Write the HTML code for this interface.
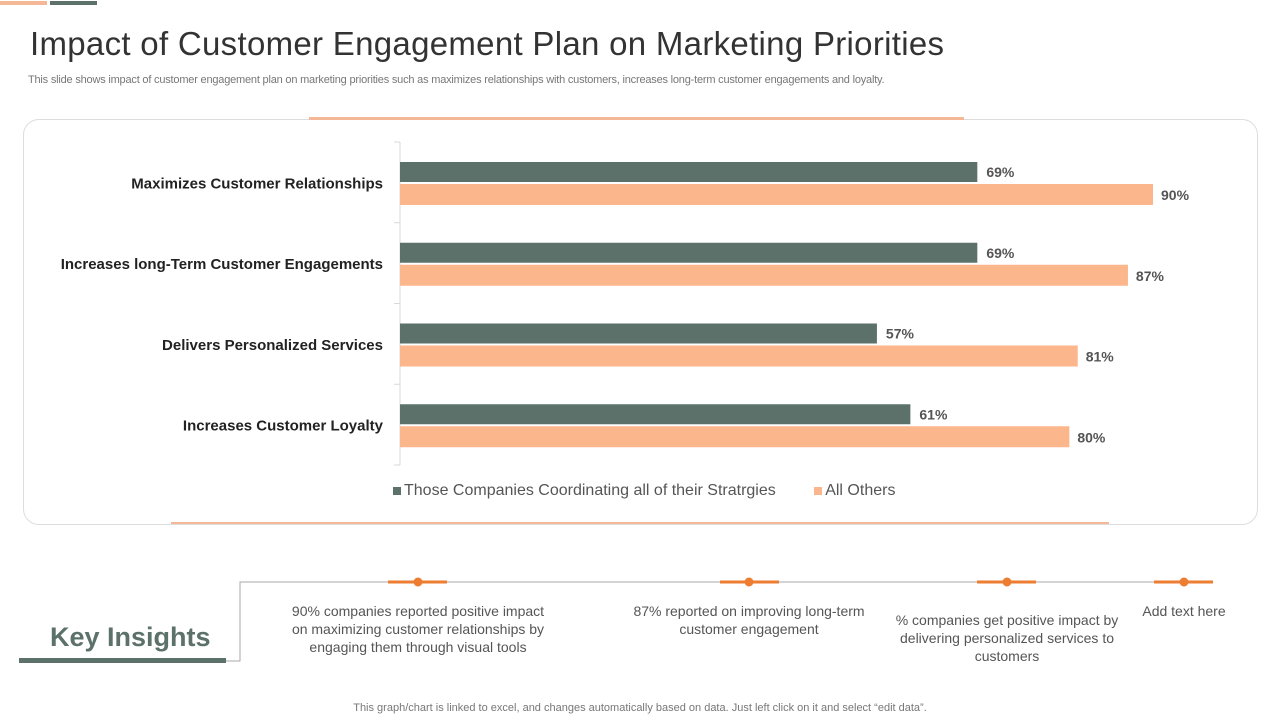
<!DOCTYPE html>
<html><head><meta charset="utf-8"><style>
body{margin:0;width:1280px;height:720px;position:relative;background:#fff;font-family:"Liberation Sans",sans-serif;overflow:hidden}
.a{position:absolute}
.ins{position:absolute;font-size:14px;color:#555;text-align:center;line-height:18px}
</style></head><body>
<div class="a" style="left:0;top:1px;width:47px;height:4px;background:#f4b896"></div>
<div class="a" style="left:50px;top:1px;width:47px;height:4px;background:#5b7169"></div>
<div class="a" style="left:30px;top:25px;font-size:33px;color:#333;letter-spacing:0.3px">Impact of Customer Engagement Plan on Marketing Priorities</div>
<div class="a" style="left:28px;top:74px;font-size:11px;color:#777;letter-spacing:-0.2px">This slide shows impact of customer engagement plan on marketing priorities such as maximizes relationships with customers, increases long-term customer engagements and loyalty.</div>
<div class="a" style="left:23px;top:119px;width:1233px;height:404px;border:1px solid #ddd;border-radius:16px"></div>
<div class="a" style="left:309px;top:117px;width:655px;height:3px;background:#f4b896"></div>
<div class="a" style="left:171px;top:522px;width:938px;height:2px;background:#f4b896"></div>
<svg class="a" style="left:0;top:0" width="1280" height="720" id="chart"></svg>
<div class="a" style="left:393px;top:482px;font-size:16px;color:#555">
<span><span style="display:inline-block;width:8px;height:8px;background:#5b7169;margin-right:3px"></span>Those Companies Coordinating all of their Stratrgies</span>
<span style="margin-left:34px"><span style="display:inline-block;width:8px;height:8px;background:#fbb68b;margin-right:3px"></span>All Others</span></div>
<svg class="a" style="left:0;top:560px" width="1280" height="110">
<polyline points="19,101 240,101 240,22 1213,22" fill="none" stroke="#aaa" stroke-width="1"/>
<rect x="19" y="98" width="207" height="5" fill="#5b7169"/>
<g fill="#ed7d31" stroke="#ed7d31">
<line x1="388" y1="22" x2="447" y2="22" stroke-width="3"/><circle cx="418" cy="22" r="4"/>
<line x1="720" y1="22" x2="779" y2="22" stroke-width="3"/><circle cx="749" cy="22" r="4"/>
<line x1="977" y1="22" x2="1036" y2="22" stroke-width="3"/><circle cx="1007" cy="22" r="4"/>
<line x1="1154" y1="22" x2="1213" y2="22" stroke-width="3"/><circle cx="1184" cy="22" r="4"/>
</g></svg>
<div class="a" style="left:50px;top:622px;font-size:27px;font-weight:bold;color:#5b7169">Key Insights</div>
<div class="ins" style="left:283px;top:602px;width:270px">90% companies reported positive impact on maximizing customer relationships by engaging them through visual tools</div>
<div class="ins" style="left:620px;top:602px;width:258px">87% reported on improving long-term customer engagement</div>
<div class="ins" style="left:880px;top:611px;width:254px">% companies get positive impact by delivering personalized services to customers</div>
<div class="ins" style="left:1124px;top:602px;width:120px">Add text here</div>
<div class="a" style="left:0;width:1280px;text-align:center;top:702px;font-size:11px;color:#777">This graph/chart is linked to excel,  and changes automatically based on data. Just left click on it and select “edit data”.</div>
<script>
const categories=["Maximizes Customer Relationships","Increases long-Term Customer Engagements","Delivers Personalized Services","Increases Customer Loyalty"];
const coordinating=[69,69,57,61];
const others=[90,87,81,80];
const svg=document.getElementById('chart');const NS='http://www.w3.org/2000/svg';
const x0=400,kx=8.367,top0=142,band=80.75;
const xs=v=>x0+v*kx;
function mk(t,a){const e=document.createElementNS(NS,t);for(const k in a)e.setAttribute(k,a[k]);svg.appendChild(e);return e;}
const ax=mk('line',{x1:x0,y1:top0,x2:x0,y2:top0+4*band,stroke:'#d9d9d9'});


for(let i=0;i<=4;i++){const t=mk('line',{x1:x0-6,y1:top0+i*band,x2:x0,y2:top0+i*band,stroke:'#d9d9d9'});

}
categories.forEach((c,i)=>{const y=top0+i*band;
const l=mk('text',{x:383,y:y+band/2+6,'text-anchor':'end','font-size':15,'font-weight':'bold',fill:'#222','font-family':'Liberation Sans'});l.textContent=c;


const b1=mk('rect',{x:x0,y:y+20,width:xs(coordinating[i])-x0,height:20,fill:'#5b7169'});


const b2=mk('rect',{x:x0,y:y+42,width:xs(others[i])-x0,height:21,fill:'#fbb68b'});


const v1=mk('text',{x:xs(coordinating[i])+9,y:y+35,'font-size':14,'font-weight':'bold',fill:'#555','font-family':'Liberation Sans'});v1.textContent=coordinating[i]+'%';


const v2=mk('text',{x:xs(others[i])+8,y:y+58,'font-size':14,'font-weight':'bold',fill:'#555','font-family':'Liberation Sans'});v2.textContent=others[i]+'%';


});
</script>
</body></html>
